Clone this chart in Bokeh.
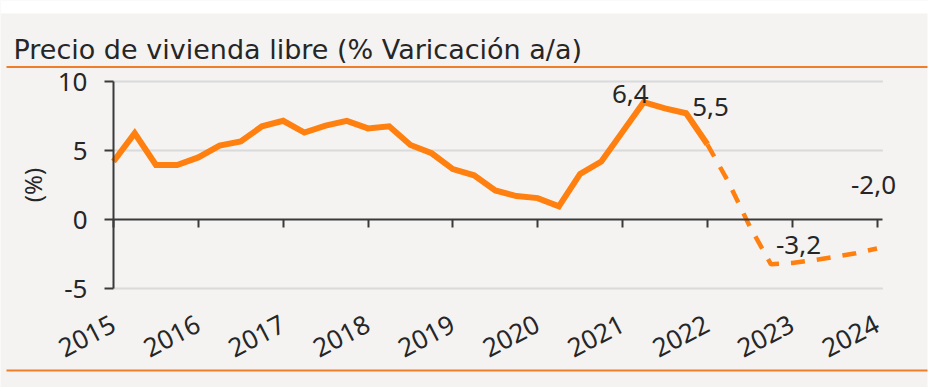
from bokeh.plotting import figure
from bokeh.models import ColumnDataSource, FixedTicker, Label, BoxAnnotation, Range1d
from bokeh.core.properties import value
from bokeh.embed import file_html
from bokeh.resources import INLINE

# ---------------- data ----------------
titulo = "Precio de vivienda libre (% Varicación a/a)"
eje_y = "(%)"
anios = [2015, 2016, 2017, 2018, 2019, 2020, 2021, 2022, 2023, 2024]
y_ticks = [-5, 0, 5, 10]
y_tick_txt = ["-5", "0", "5", "10"]
y_grid = [-5, 5, 10]

periodo_obs = [2015.00, 2015.25, 2015.50, 2015.75, 2016.00, 2016.25, 2016.50, 2016.75,
               2017.00, 2017.25, 2017.50, 2017.75, 2018.00, 2018.25, 2018.50, 2018.75,
               2019.00, 2019.25, 2019.50, 2019.75, 2020.00, 2020.25, 2020.50, 2020.75,
               2021.00, 2021.25, 2021.50, 2021.75, 2022.00]
precio_obs = [4.2, 6.25, 3.95, 3.95, 4.5, 5.35, 5.65, 6.75,
              7.15, 6.3, 6.8, 7.15, 6.6, 6.75, 5.4, 4.8,
              3.65, 3.2, 2.1, 1.7, 1.55, 0.95, 3.3, 4.2,
              6.35, 8.5, 8.05, 7.7, 5.45]

periodo_prev = [2022.00, 2022.25, 2022.50, 2022.75, 2023.00, 2023.25, 2023.50, 2023.75, 2024.00]
precio_prev = [5.45, 2.7, -0.5, -3.25, -3.15, -2.95, -2.7, -2.45, -2.1]

etiqueta_x = [2021.25, 2021.75, 2022.75, 2024.00]
etiqueta_y = [8.5, 7.7, -3.25, -2.1]
etiqueta_txt = ["6,4", "5,5", "-3,2", "-2,0"]

# ---------------- style / layout ----------------
FONT = "Noto Sans"
TITLE_FONT = "DejaVu Sans"
TXT = "#262626"
ORANGE = "#ff7f0f"
RULE = "#ef7d2a"
BG = "#f4f3f2"
AXIS = "#3a3a3a"
FS = "26px"

W, H = 928, 387
X_FIRST_PX, X_LAST_PX = 113.0, 876.5     # first and last year tick
Y_TOP_PX, Y_BOT_PX = 81.0, 288.0         # y = 10 and y = -5
X_AXIS_END = 2024.07

ppy = (X_LAST_PX - X_FIRST_PX) / (anios[-1] - anios[0])
ppu = (Y_BOT_PX - Y_TOP_PX) / (y_ticks[-1] - y_ticks[0])
x_start = anios[0] - X_FIRST_PX / ppy
x_end = anios[0] + (W - X_FIRST_PX) / ppy
y_end = y_ticks[-1] + Y_TOP_PX / ppu
y_start = y_ticks[0] - (H - Y_BOT_PX) / ppu

p = figure(width=W, height=H, output_backend="svg", toolbar_location=None,
           x_range=Range1d(x_start, x_end), y_range=Range1d(y_start, y_end),
           min_border=0, border_fill_color=BG, background_fill_color=BG,
           outline_line_color=None)
p.title.visible = False

def canvas_box(l, r, t, b, color, level):
    p.add_layout(BoxAnnotation(left=l, right=r, top=t, bottom=b,
                               left_units="canvas", right_units="canvas",
                               top_units="canvas", bottom_units="canvas",
                               fill_color=color, fill_alpha=1, line_color=None, level=level))

canvas_box(0, W, 0, 13, "white", "image")
canvas_box(927, W, 0, H, "white", "image")
canvas_box(6, 927, 65.5, 67.5, RULE, "overlay")
canvas_box(6, 927, 369, 371, RULE, "overlay")

p.add_layout(Label(x=13, y=49, x_units="canvas", y_units="canvas", text=titulo,
                   text_font=TITLE_FONT, text_font_size="27px", text_color=TXT,
                   text_baseline="alphabetic"))

# grid lines (only across the data area)
p.xgrid.visible = False
p.ygrid.visible = False
p.segment(x0=[anios[0]] * len(y_grid), x1=[X_AXIS_END] * len(y_grid), y0=y_grid, y1=y_grid,
          line_color="#dadada", line_width=2, level="underlay")

# y axis
ya = p.yaxis[0]
ya.fixed_location = anios[0]
ya.bounds = (y_ticks[0], y_ticks[-1])
ya.ticker = FixedTicker(ticks=y_ticks)
ya.major_label_overrides = dict(zip(y_ticks, y_tick_txt))
ya.axis_line_color = AXIS
ya.axis_line_width = 2
ya.major_tick_line_color = AXIS
ya.major_tick_line_width = 2
ya.major_tick_out = 9
ya.major_tick_in = 0
ya.minor_tick_line_color = None
ya.major_label_standoff = 17
ya.major_label_text_font = FONT
ya.major_label_text_font_size = FS
ya.major_label_text_color = TXT
ya.axis_label = eje_y
ya.axis_label_text_font = FONT
ya.axis_label_text_font_size = "24px"
ya.axis_label_text_font_style = "normal"
ya.axis_label_text_color = TXT
ya.axis_label_standoff = 6

# x axis at zero, labels far below
xa = p.xaxis[0]
xa.fixed_location = 0
xa.bounds = (anios[0], X_AXIS_END)
xa.ticker = FixedTicker(ticks=anios)
xa.axis_line_color = AXIS
xa.axis_line_width = 2
xa.major_tick_line_color = AXIS
xa.major_tick_line_width = 2
xa.major_tick_out = 8
xa.major_tick_in = 0
xa.minor_tick_line_color = None
xa.major_label_orientation = 0.48
xa.major_label_standoff = 95
xa.major_label_text_font = FONT
xa.major_label_text_font_size = FS
xa.major_label_text_color = TXT

# series
p.line(periodo_obs, precio_obs, line_color=ORANGE, line_width=6, line_join="miter")
p.line(periodo_prev, precio_prev, line_color=ORANGE, line_width=4.5, line_dash="14 12")

# value labels
src = ColumnDataSource(dict(x=etiqueta_x, y=etiqueta_y, t=etiqueta_txt,
                            dx=[5, 6, 5, -3.5], dy=[-8, -6, -19, -63],
                            al=["right", "left", "left", "center"]))
p.text(x="x", y="y", text="t", source=src, x_offset="dx", y_offset="dy", text_align="al",
       text_baseline="alphabetic", text_font=value(FONT), text_font_size=FS, text_color=TXT)

open("out.html", "w").write(file_html(p, INLINE))
